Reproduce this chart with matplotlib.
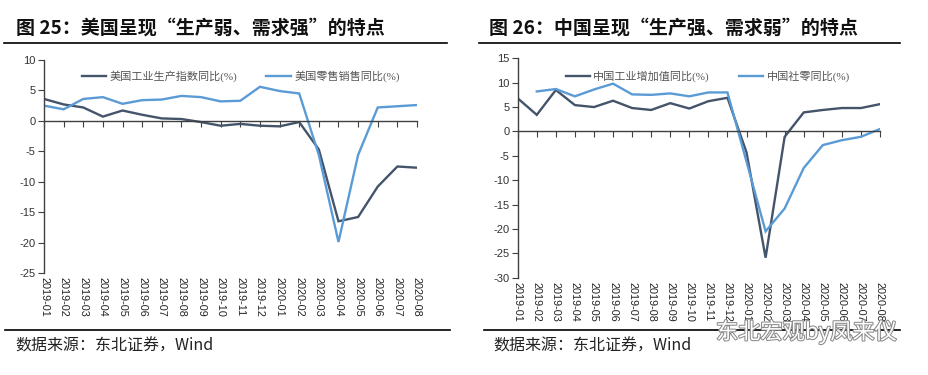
import matplotlib
matplotlib.use("Agg")
import matplotlib.pyplot as plt
from matplotlib.lines import Line2D
import matplotlib.patheffects as pe
import numpy as np

plt.rcParams['font.family'] = ['Liberation Sans', 'Noto Sans CJK SC', 'DejaVu Sans']

months = ["2019-01", "2019-02", "2019-03", "2019-04", "2019-05", "2019-06", "2019-07",
          "2019-08", "2019-09", "2019-10", "2019-11", "2019-12", "2020-01", "2020-02",
          "2020-03", "2020-04", "2020-05", "2020-06", "2020-07", "2020-08"]

us_ip = [3.6, 2.7, 2.2, 0.7, 1.7, 1.0, 0.4, 0.3, -0.2, -0.8, -0.5, -0.8, -0.9, -0.2,
         -4.7, -16.5, -15.8, -10.8, -7.5, -7.7]
us_retail = [2.5, 1.9, 3.6, 3.9, 2.8, 3.4, 3.5, 4.1, 3.9, 3.2, 3.3, 5.6, 4.9, 4.5,
             -5.6, -19.9, -5.6, 2.2, 2.4, 2.6]

cn_ip = [6.8, 3.4, 8.5, 5.4, 5.0, 6.3, 4.8, 4.4, 5.8, 4.7, 6.2, 6.9, -4.3, -25.9,
         -1.1, 3.9, 4.4, 4.8, 4.8, 5.6]
cn_retail = [np.nan, 8.2, 8.7, 7.2, 8.6, 9.8, 7.6, 7.5, 7.8, 7.2, 8.0, 8.0, -6.2, -20.5,
             -15.8, -7.5, -2.8, -1.8, -1.1, 0.5]

left_title = "图 25：美国呈现“生产弱、需求强”的特点"
right_title = "图 26：中国呈现“生产强、需求弱”的特点"
left_labels = ["美国工业生产指数同比(%)", "美国零售销售同比(%)"]
right_labels = ["中国工业增加值同比(%)", "中国社零同比(%)"]
source_text = "数据来源：东北证券，Wind"

left_yticks = [10, 5, 0, -5, -10, -15, -20, -25]
right_yticks = [15, 10, 5, 0, -5, -10, -15, -20, -25, -30]

DARK = "#44546A"
LIGHT = "#5B9BD5"
AX = "#404040"

W, H = 929, 375
fig = plt.figure(figsize=(W / 100, H / 100), dpi=100)
fig.patch.set_facecolor("white")


def px(x0, y0, x1, y1):
    return [x0 / W, 1 - y1 / H, (x1 - x0) / W, (y1 - y0) / H]


def make_panel(rect, s1, s2, labels, yticks, ylim, leg_pos):
    ax = fig.add_axes(rect)
    x = np.arange(len(months))
    ax.plot(x, s1, color=DARK, lw=1.7, solid_joinstyle='miter')
    ax.plot(x, s2, color=LIGHT, lw=1.7, solid_joinstyle='miter')
    ax.set_xlim(0, len(months) - 1)
    ax.set_ylim(*ylim)
    ax.set_yticks(yticks)
    ax.set_yticklabels([str(v) for v in yticks], fontsize=8, color="#333333")
    for s in ["top", "right"]:
        ax.spines[s].set_visible(False)
    ax.spines["left"].set_color(AX)
    ax.spines["left"].set_linewidth(1.0)
    ax.spines["bottom"].set_position(("data", 0))
    ax.spines["bottom"].set_color(AX)
    ax.spines["bottom"].set_linewidth(1.0)
    ax.set_xticks(x)
    ax.tick_params(axis="x", direction="out", length=4, color=AX, labelbottom=False)
    ax.tick_params(axis="y", direction="out", length=4, color=AX, pad=2)
    trans = ax.get_xaxis_transform()
    for xi, lab in zip(x, months):
        ax.text(xi, -0.02, lab, rotation=270, ha="center", va="top",
                fontsize=7.8, color="#222222", transform=trans, clip_on=False)
    handles = [Line2D([], [], color=DARK, lw=1.7), Line2D([], [], color=LIGHT, lw=1.7)]
    leg = ax.legend(handles, labels, loc="upper left", bbox_to_anchor=leg_pos,
                    ncol=2, frameon=False, handlelength=2.2,
                    handletextpad=0.3, columnspacing=2.6, borderaxespad=0,
                    prop={'family': ['Liberation Serif', 'Noto Sans CJK SC'], 'size': 8})
    for t in leg.get_texts():
        t.set_color("#555555")
    ax.set_facecolor("white")
    return ax


axL = make_panel(px(44, 60, 417, 273), us_ip, us_retail, left_labels, left_yticks,
                 (-25, 10), (0.09, 0.97))
axR = make_panel(px(517.7, 58.3, 880, 277.7), cn_ip, cn_retail, right_labels, right_yticks,
                 (-30, 15), (0.12, 0.965))

cjk = ['Noto Sans CJK SC', 'DejaVu Sans']
fig.text(16 / W, 1 - 28 / H, left_title, fontsize=13.7, fontweight="bold",
         family=cjk, va="center", ha="left", color="#111111")
fig.text(489 / W, 1 - 28 / H, right_title, fontsize=13.7, fontweight="bold",
         family=cjk, va="center", ha="left", color="#111111")

fig.add_artist(Line2D([4 / W, 447 / W], [1 - 43 / H, 1 - 43 / H], color="black", lw=1.2))
fig.add_artist(Line2D([479 / W, 900 / W], [1 - 43 / H, 1 - 43 / H], color="black", lw=1.2))
fig.add_artist(Line2D([5 / W, 450 / W], [1 - 330 / H, 1 - 330 / H], color="black", lw=1.2))
fig.add_artist(Line2D([484 / W, 900 / W], [1 - 330 / H, 1 - 330 / H], color="black", lw=1.2))

fig.text(15 / W, 1 - 346 / H, source_text, fontsize=11.5, family=cjk,
         va="center", ha="left", color="#222222")
fig.text(493 / W, 1 - 346 / H, source_text, fontsize=11.5, family=cjk,
         va="center", ha="left", color="#222222")

wm = fig.text(716 / W, 1 - 332 / H, "东北宏观by凤来仪", fontsize=16, family=cjk,
              va="center", ha="left", color="white")
wm.set_path_effects([pe.withStroke(linewidth=1.5, foreground="#8a8a8a")])

fig.savefig("out.png", dpi=100, facecolor="white")
